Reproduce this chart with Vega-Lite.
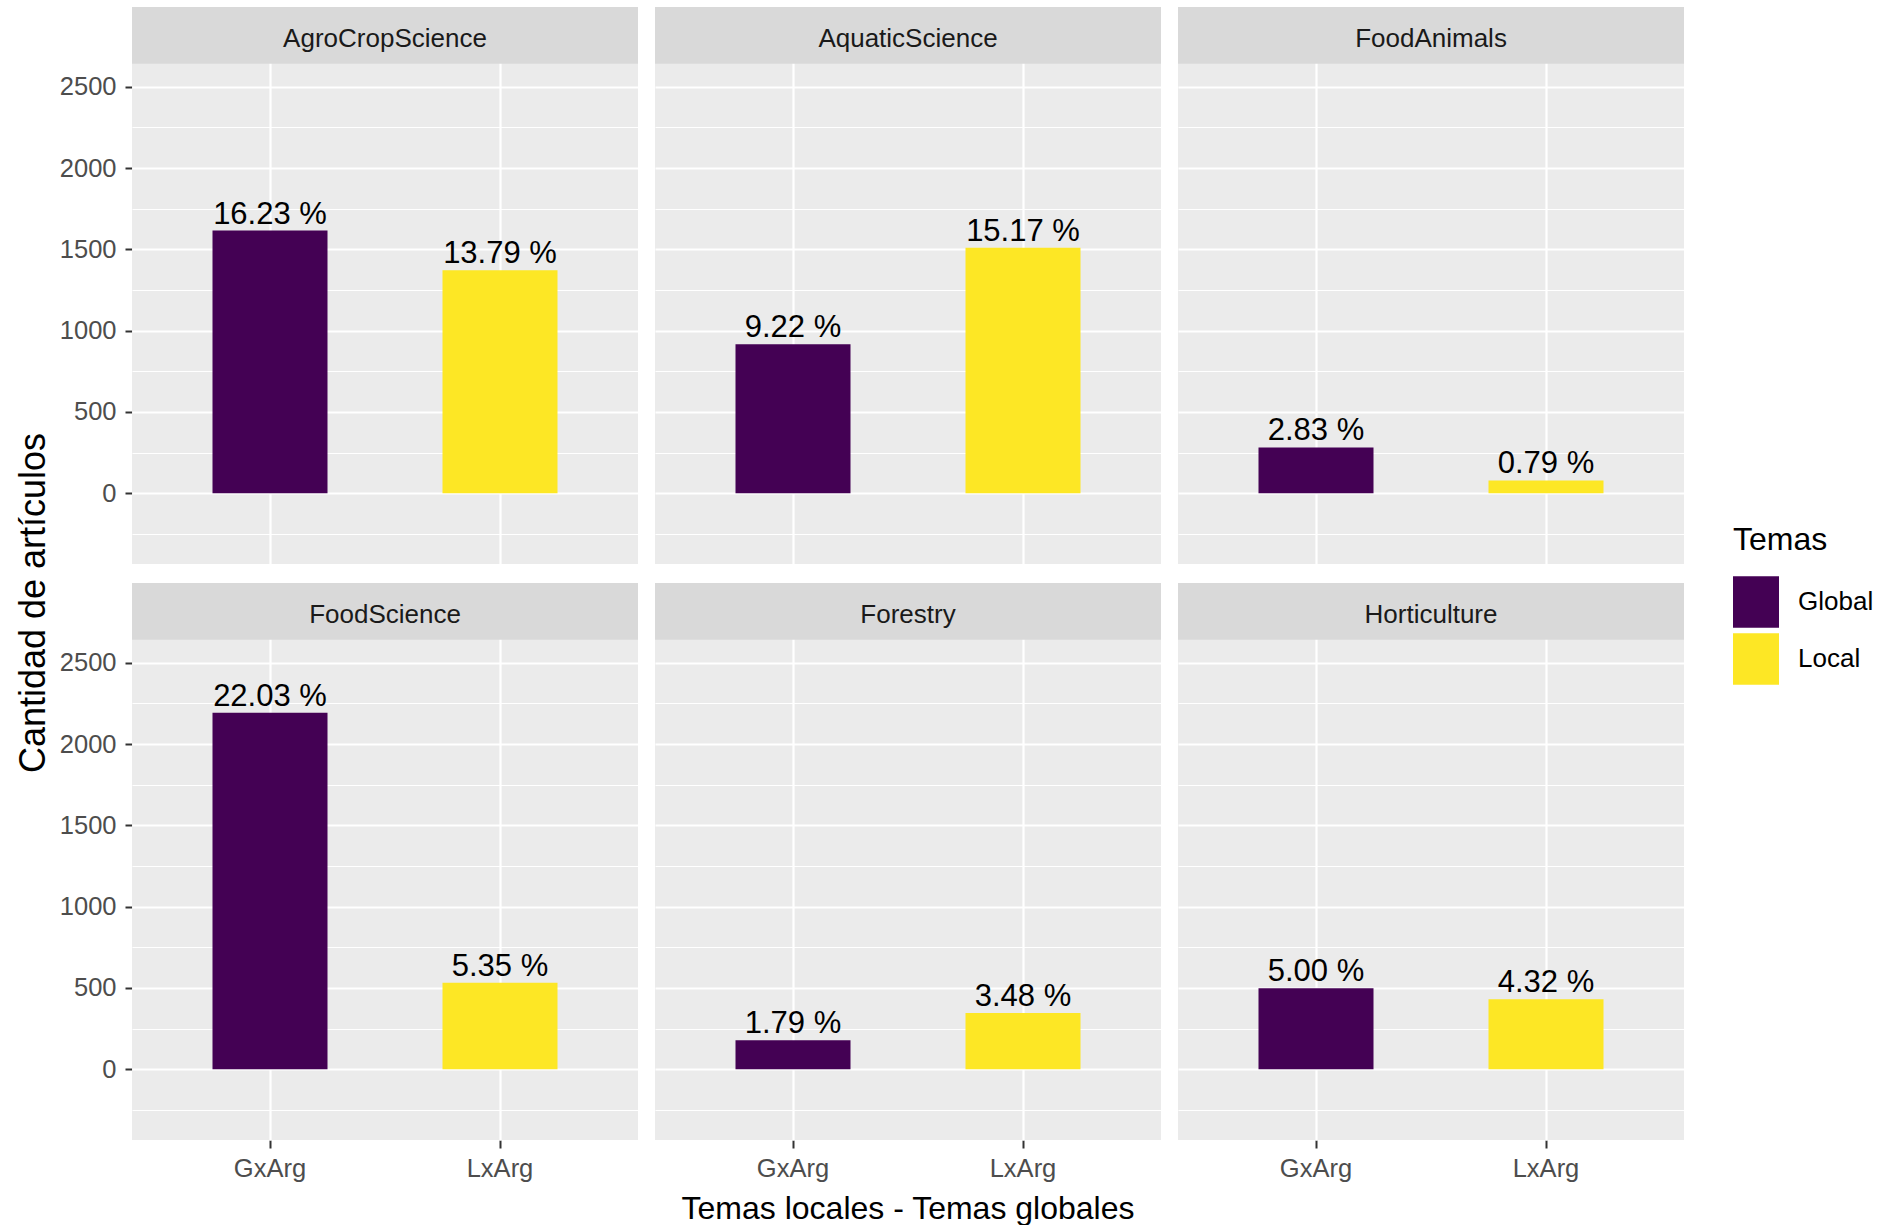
{
  "$schema": "https://vega.github.io/schema/vega-lite/v6.json",
  "padding": {"left": 16, "top": 7, "right": 0, "bottom": 0},
  "background": "white",
  "config": {
    "font": "Liberation Sans",
    "view": {"fill": "#EBEBEB", "stroke": null}
  },
  "title": {
    "text": "Cantidad de artículos",
    "orient": "left",
    "anchor": "middle",
    "fontSize": 36,
    "fontWeight": "normal",
    "color": "#000000",
    "font": "Liberation Sans",
    "offset": 6,
    "dx": 13
  },
  "data": {
    "values": [
      {"panel": "AgroCropScience", "x": "GxArg", "tema": "Global", "count": 1615, "label": "16.23 %"},
      {"panel": "AgroCropScience", "x": "LxArg", "tema": "Local", "count": 1372, "label": "13.79 %"},
      {"panel": "AquaticScience", "x": "GxArg", "tema": "Global", "count": 917, "label": "9.22 %"},
      {"panel": "AquaticScience", "x": "LxArg", "tema": "Local", "count": 1509, "label": "15.17 %"},
      {"panel": "FoodAnimals", "x": "GxArg", "tema": "Global", "count": 282, "label": "2.83 %"},
      {"panel": "FoodAnimals", "x": "LxArg", "tema": "Local", "count": 79, "label": "0.79 %"},
      {"panel": "FoodScience", "x": "GxArg", "tema": "Global", "count": 2192, "label": "22.03 %"},
      {"panel": "FoodScience", "x": "LxArg", "tema": "Local", "count": 532, "label": "5.35 %"},
      {"panel": "Forestry", "x": "GxArg", "tema": "Global", "count": 178, "label": "1.79 %"},
      {"panel": "Forestry", "x": "LxArg", "tema": "Local", "count": 346, "label": "3.48 %"},
      {"panel": "Horticulture", "x": "GxArg", "tema": "Global", "count": 498, "label": "5.00 %"},
      {"panel": "Horticulture", "x": "LxArg", "tema": "Local", "count": 430, "label": "4.32 %"}
    ]
  },
  "facet": {
    "field": "panel",
    "type": "nominal",
    "sort": ["AgroCropScience", "AquaticScience", "FoodAnimals", "FoodScience", "Forestry", "Horticulture"],
    "header": {
      "labels": false,
      "labelExpr": "''",
      "labelFontSize": 0,
      "labelPadding": 0,
      "title": "Temas locales - Temas globales",
      "titleOrient": "bottom",
      "titleFontSize": 32,
      "titleFontWeight": "normal",
      "titleColor": "#000000",
      "titleFont": "Liberation Sans",
      "titlePadding": 12
    }
  },
  "columns": 3,
  "spacing": {"row": 19, "column": 17},
  "spec": {
    "width": 506,
    "height": 557,
    "layer": [
      {
        "mark": {"type": "bar"},
        "encoding": {
          "x": {
            "field": "x",
            "type": "nominal",
            "scale": {"paddingInner": 0.5, "paddingOuter": 0.35},
            "axis": {
              "title": null,
              "labelAngle": 0,
              "grid": true,
              "gridColor": "#FFFFFF",
              "gridWidth": 2.2,
              "bandPosition": 0.5,
              "domain": false,
              "tickSize": 8,
              "tickWidth": 2,
              "tickColor": "#333333",
              "labelFontSize": 25.5,
              "labelColor": "#4D4D4D",
              "labelPadding": 8
            }
          },
          "y": {
            "field": "count",
            "type": "quantitative",
            "scale": {"domain": [-435, 2990], "nice": false, "zero": false},
            "axis": {
              "title": null,
              "values": [-250, 0, 250, 500, 750, 1000, 1250, 1500, 1750, 2000, 2250, 2500, 2750],
              "format": "d",
              "labelExpr": "datum.value % 500 == 0 && datum.value >= 0 && datum.value <= 2500 ? datum.label : ''",
              "grid": true,
              "gridColor": "#FFFFFF",
              "gridWidth": {"condition": {"test": "datum.value % 500 != 0", "value": 1.1}, "value": 2.2},
              "tickOpacity": {"condition": {"test": "datum.value % 500 != 0 || datum.value > 2500", "value": 0}, "value": 1},
              "domain": false,
              "tickSize": 7,
              "tickWidth": 2,
              "tickColor": "#333333",
              "labelFontSize": 25.5,
              "labelColor": "#4D4D4D",
              "labelPadding": 9
            }
          },
          "color": {
            "field": "tema",
            "type": "nominal",
            "scale": {"domain": ["Global", "Local"], "range": ["#440154", "#FDE725"]},
            "legend": {
              "title": "Temas",
              "orient": "none",
              "legendX": 1601,
              "legendY": 518,
              "padding": 0,
              "titleFontSize": 32,
              "titleFontWeight": "normal",
              "titleColor": "#000000",
              "titlePadding": 22,
              "labelFontSize": 26,
              "labelColor": "#000000",
              "labelOffset": 19,
              "symbolType": "M-1,-1.12H1V1.12H-1Z",
              "symbolSize": 2116,
              "symbolStrokeWidth": 0,
              "symbolOpacity": 1,
              "rowPadding": 5
            }
          }
        }
      },
      {
        "mark": {"type": "text", "fontSize": 31, "color": "#000000", "baseline": "alphabetic", "dy": -7},
        "encoding": {
          "x": {"field": "x", "type": "nominal"},
          "y": {"field": "count", "type": "quantitative"},
          "text": {"field": "label"}
        }
      },
      {
        "mark": {"type": "rect", "color": "#D9D9D9"},
        "encoding": {
          "y": {"datum": 2643},
          "y2": {"datum": 2990}
        }
      },
      {
        "transform": [{"filter": "datum.tema == 'Global'"}],
        "mark": {"type": "text", "fontSize": 26, "color": "#1A1A1A", "baseline": "alphabetic"},
        "encoding": {
          "y": {"datum": 2747},
          "text": {"field": "panel"}
        }
      }
    ]
  }
}
